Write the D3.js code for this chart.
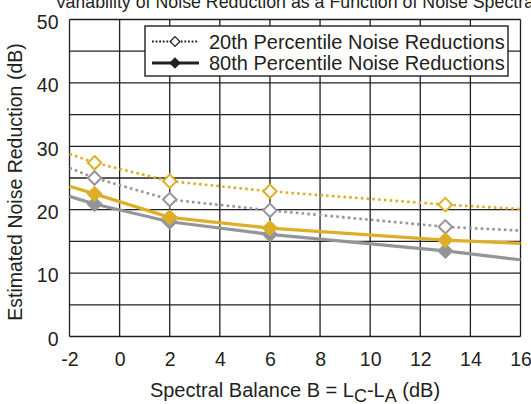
<!DOCTYPE html>
<html>
<head>
<meta charset="utf-8">
<script src="https://cdn.jsdelivr.net/npm/d3@7"></script>
<style>
  body { margin: 0; background: #fff; }
  text { font-family: "Liberation Sans", Arial, sans-serif; fill: #231f20; }
</style>
</head>
<body>
<script>
// values
var xLine = [-2, -1, 2, 6, 13, 16];   // line runs across the whole plot
var xMarks = [-1, 2, 6, 13];          // diamonds only sit here
var yellow20 = [28.8, 27.4, 24.5, 22.9, 20.8, 20.1];
var gray20   = [26.6, 25.0, 21.6, 19.9, 17.3, 16.7];
var yellow80 = [23.7, 22.5, 18.8, 17.1, 15.2, 14.7];
var gray80   = [22.1, 20.9, 18.1, 16.1, 13.5, 12.1];
var xTicks = [-2, 0, 2, 4, 6, 8, 10, 12, 14, 16];
var yTicks = [0, 10, 20, 30, 40, 50];
var yGrid = [0, 5, 10, 15, 20, 25, 30, 35, 40, 45, 50];
var legendLabels = ["20th Percentile Noise Reductions", "80th Percentile Noise Reductions"];

var W = 531, H = 404;
// note: "top" is taken by window.top, so plot edges get their own names
var plotL = 69.5, plotR = 520.5, plotT = 19.5, plotB = 336.5;
var gold = "#ddaf29", gray = "#939598", ink = "#231f20";

var svg = d3.select("body")
  .append("svg")
    .attr("width", W)
    .attr("height", H)

var x = d3.scaleLinear().domain([-2, 16]).range([plotL, plotR]);
var y = d3.scaleLinear().domain([0, 50]).range([plotB, plotT]);

// title, cut off at the top like the original
svg.append("text")
  .attr("x", 55)
  .attr("y", 7.5)
  .style("font-size", "17.8px")
  .text("Variability of Noise Reduction as a Function of Noise Spectra")

// grid
svg.selectAll(".vgrid")
  .data(xTicks)
  .enter()
  .append("line")
  .attr("x1", function(d){ return x(d); })
  .attr("x2", function(d){ return x(d); })
  .attr("y1", plotT)
  .attr("y2", plotB)
  .attr("stroke", ink)
  .attr("stroke-width", 1.3)

svg.selectAll(".hgrid")
  .data(yGrid)
  .enter()
  .append("line")
  .attr("x1", plotL)
  .attr("x2", plotR)
  .attr("y1", function(d){ return y(d); })
  .attr("y2", function(d){ return y(d); })
  .attr("stroke", ink)
  .attr("stroke-width", 1.3)

// axes only for the labels
var xAxis = svg.append("g")
  .attr("transform", "translate(0," + plotB + ")")
  .call(d3.axisBottom(x).tickValues(xTicks).tickSize(0).tickFormat(function(d){ return String(d); }))
xAxis.select(".domain").remove()
xAxis.selectAll("text")
  .attr("y", 29.5)
  .attr("dy", null)
  .attr("font-family", null)
  .attr("font-size", null)
  .style("font-size", "19.5px")
  .attr("fill", ink)

var yAxis = svg.append("g")
  .attr("transform", "translate(" + plotL + ",0)")
  .call(d3.axisLeft(y).tickValues(yTicks).tickSize(0).tickPadding(11).tickFormat(function(d){ return String(d); }))
yAxis.select(".domain").remove()
yAxis.selectAll("text")
  .attr("dy", "0.45em")
  .attr("font-family", null)
  .style("font-size", "19.5px")
  .attr("fill", ink)

// axis titles
var xt = svg.append("text")
  .attr("x", (plotL + plotR) / 2)
  .attr("y", 397)
  .attr("text-anchor", "middle")
  .style("font-size", "20px")
xt.append("tspan").text("Spectral Balance B = L")
xt.append("tspan").attr("dy", 5).style("font-size", "18px").text("C")
xt.append("tspan").attr("dy", -5).text("-L")
xt.append("tspan").attr("dy", 5).style("font-size", "18px").text("A")
xt.append("tspan").attr("dy", -5).text(" (dB)")

svg.append("text")
  .attr("transform", "translate(22," + 182 + ") rotate(-90)")
  .attr("text-anchor", "middle")
  .style("font-size", "19.5px")
  .text("Estimated Noise Reduction (dB)")

// lines
var line = d3.line()
  .x(function(d){ return x(d[0]); })
  .y(function(d){ return y(d[1]); })

function pairs(vals){
  return xLine.map(function(v, i){ return [v, vals[i]]; });
}
function marks(vals){
  return pairs(vals).filter(function(d){ return xMarks.indexOf(d[0]) >= 0; });
}

var diamond = d3.symbol().type(d3.symbolDiamond2);

var series = [
  {vals: gray20, color: gray, dotted: true},
  {vals: yellow20, color: gold, dotted: true},
  {vals: gray80, color: gray, dotted: false},
  {vals: yellow80, color: gold, dotted: false}
];

series.forEach(function(s){
  svg.append("path")
    .datum(pairs(s.vals))
    .attr("d", line)
    .attr("fill", "none")
    .attr("stroke", s.color)
    .attr("stroke-width", s.dotted ? 2.6 : 3.2)
    .attr("stroke-dasharray", s.dotted ? "2.6,3.2" : null)

  svg.selectAll(null)
    .data(marks(s.vals))
    .enter()
    .append("path")
    .attr("d", diamond.size(s.dotted ? 115 : 150))
    .attr("transform", function(d){ return "translate(" + x(d[0]) + "," + y(d[1]) + ")"; })
    .attr("fill", s.dotted ? "#fff" : s.color)
    .attr("stroke", s.color)
    .attr("stroke-width", s.dotted ? 2 : 1)
})

// legend box
var lg = svg.append("g")
lg.append("rect")
  .attr("x", 145)
  .attr("y", 26)
  .attr("width", 363)
  .attr("height", 50)
  .attr("fill", "#fff")
  .attr("stroke", ink)
  .attr("stroke-width", 1.4)

var rows = [41.5, 63];
lg.selectAll(".lgline")
  .data(legendLabels)
  .enter()
  .append("line")
  .attr("x1", 152)
  .attr("x2", 199)
  .attr("y1", function(d, i){ return rows[i]; })
  .attr("y2", function(d, i){ return rows[i]; })
  .attr("stroke", ink)
  .attr("stroke-width", function(d, i){ return i == 0 ? 1.8 : 3; })
  .attr("stroke-dasharray", function(d, i){ return i == 0 ? "1.8,1.8" : null; })

lg.selectAll(".lgmark")
  .data(legendLabels)
  .enter()
  .append("path")
  .attr("d", diamond.size(60))
  .attr("transform", function(d, i){ return "translate(175," + rows[i] + ")"; })
  .attr("fill", function(d, i){ return i == 0 ? "#fff" : ink; })
  .attr("stroke", ink)
  .attr("stroke-width", 1.3)

lg.selectAll(".lgtext")
  .data(legendLabels)
  .enter()
  .append("text")
  .attr("x", 209)
  .attr("y", function(d, i){ return rows[i] + 7; })
  .style("font-size", "20px")
  .text(function(d){ return d; })
</script>
</body>
</html>
